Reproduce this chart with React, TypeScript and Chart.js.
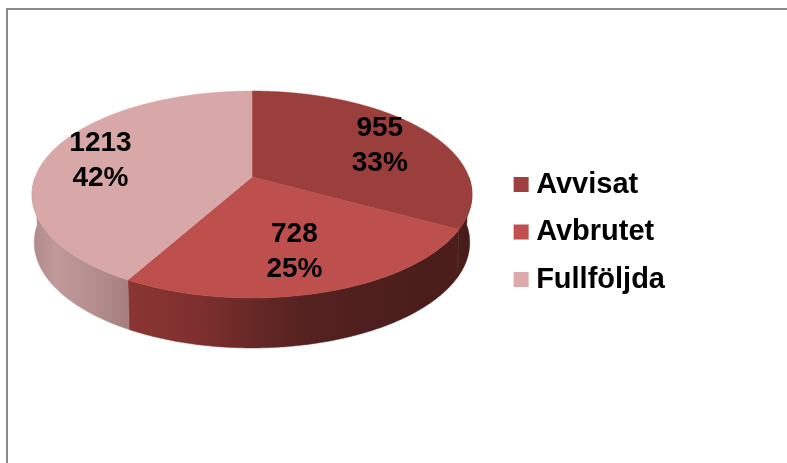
import React, { useEffect, useRef } from "react";
import { Chart, registerables } from "chart.js";

Chart.register(...registerables);

const categories = ["Avvisat", "Avbrutet", "Fullföljda"];
const values = [955, 728, 1213];
const faceColors = ["#9a3f3c", "#bd4f4c", "#d8a7a7"];
const legendColors = ["#9e413e", "#c0504d", "#dcaaaa"];
const wallStops: [number, string][][] = [
  [[0, "#4c1e1b"], [0.6, "#451b19"], [1, "#562522"]],
  [[0, "#8a3533"], [0.2, "#7f302e"], [0.4, "#642725"], [0.55, "#532120"], [0.9, "#4a1d1b"], [1, "#4c1e1b"]],
  [[0, "#b08a8a"], [0.25, "#c09a9a"], [0.6, "#b69090"], [1, "#a68080"]],
];

// projective view of the pie's disc
const CX = 252, RX = 216.8, AY = 177, BY = 70.6, PC = -0.169;
const project = (u: number, v: number) => {
  const w = 1 + PC * v;
  return { x: CX + (RX * u) / w, y: (BY * v + AY) / w };
};
const rimPoint = (theta: number, r = 1) => project(r * Math.sin(theta), -r * Math.cos(theta));
const lowerRim = (p: { x: number; y: number }) => ({
  x: CX + (p.x - CX) * 0.99,
  y: p.y + 50 - (298 - p.y) * 0.02,
});

const labelFractions = [0.68, 0.675, 0.73];
const labelShift = [8, -3, -3];

const pie3d = {
  id: "pie3d",
  beforeDraw(chart: any) {
    const { ctx, width, height } = chart;
    ctx.save();
    ctx.fillStyle = "#ffffff";
    ctx.fillRect(0, 0, width, height);
    ctx.fillStyle = "#8a8a8a";
    ctx.fillRect(6, 8, 2, height - 8);
    ctx.fillRect(6, 8, width - 6, 2);
    ctx.restore();
  },
  beforeDatasetDraw(chart: any, args: any) {
    const { ctx } = chart;
    const arcs = chart.getDatasetMeta(args.index).data;
    const total = values.reduce((a, b) => a + b, 0);
    const range = (arc: any) => {
      const a0 = arc.startAngle + Math.PI / 2;
      const a1 = arc.endAngle + Math.PI / 2;
      const pts: number[] = [];
      const n = Math.ceil((a1 - a0) / 0.01);
      for (let i = 0; i <= n; i++) pts.push(a0 + ((a1 - a0) * i) / n);
      return pts;
    };
    ctx.save();
    // walls: only the front part of each rim, so nothing shows behind the top face
    arcs.forEach((arc: any, i: number) => {
      const angles = range(arc).filter((t) => Math.cos(t) < 0);
      const rim = angles.map((t) => rimPoint(t));
      const low = rim.map(lowerRim);
      const xs = rim.map((p) => p.x);
      const g = ctx.createLinearGradient(Math.min(...xs), 0, Math.max(...xs), 0);
      wallStops[i].forEach(([o, c]) => g.addColorStop(o, c));
      ctx.beginPath();
      rim.forEach((p, k) => (k ? ctx.lineTo(p.x, p.y) : ctx.moveTo(p.x, p.y)));
      low.reverse().forEach((p) => ctx.lineTo(p.x, p.y));
      ctx.closePath();
      ctx.fillStyle = g;
      ctx.strokeStyle = g;
      ctx.lineWidth = 0.5;
      ctx.fill();
      ctx.stroke();
    });
    // faces
    arcs.forEach((arc: any, i: number) => {
      const rim = range(arc).map((t) => rimPoint(t));
      const c = project(0, 0);
      ctx.beginPath();
      ctx.moveTo(c.x, c.y);
      rim.forEach((p) => ctx.lineTo(p.x, p.y));
      ctx.closePath();
      ctx.fillStyle = faceColors[i];
      ctx.strokeStyle = faceColors[i];
      ctx.lineWidth = 0.5;
      ctx.fill();
      ctx.stroke();
    });
    // labels
    ctx.fillStyle = "#000000";
    ctx.font = 'bold 28px "Liberation Sans"';
    ctx.textAlign = "center";
    ctx.textBaseline = "middle";
    arcs.forEach((arc: any, i: number) => {
      const mid = (arc.startAngle + arc.endAngle) / 2 + Math.PI / 2;
      const p = rimPoint(mid, labelFractions[i]);
      ctx.fillText(String(values[i]), p.x + labelShift[i], p.y - 16);
      ctx.fillText(`${Math.round((values[i] / total) * 100)}%`, p.x + labelShift[i], p.y + 19);
    });
    ctx.restore();
    return false;
  },
};

export default function App() {
  const ref = useRef<HTMLCanvasElement>(null);
  useEffect(() => {
    const chart = new Chart(ref.current!, {
      type: "pie",
      data: {
        labels: categories,
        datasets: [{ data: values, backgroundColor: legendColors, borderWidth: 0 }],
      },
      options: {
        animation: false,
        responsive: false,
        layout: { padding: { right: 112, top: 1 } },
        plugins: {
          tooltip: { enabled: false },
          legend: {
            position: "right",
            labels: {
              usePointStyle: true,
              pointStyle: "rect",
              boxWidth: 1,
              boxHeight: 15,
              padding: 18.5,
              color: "#000000",
              font: { family: '"Liberation Sans"', size: 29, weight: "bold" },
            },
          },
        },
      },
      plugins: [pie3d],
    } as any);
    return () => chart.destroy();
  }, []);
  return (
    <div style={{ position: "fixed", left: 0, top: 0, width: 787, height: 463 }}>
      <canvas ref={ref} width={787} height={463} style={{ display: "block", filter: "blur(0.4px)" }} />
    </div>
  );
}
